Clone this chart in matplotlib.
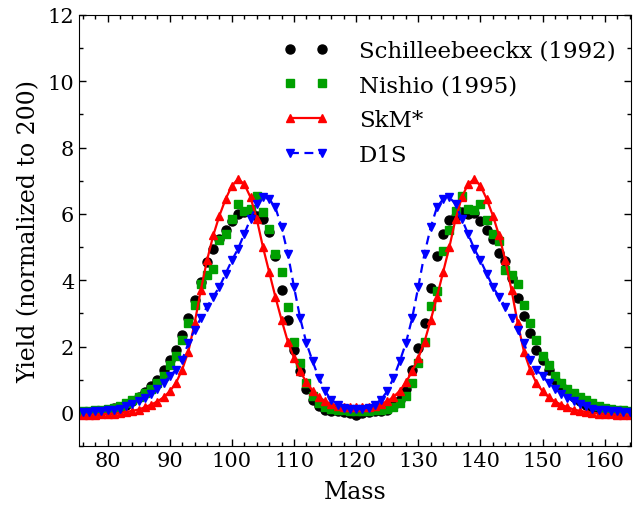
import numpy as np
import matplotlib.pyplot as plt
from matplotlib.ticker import MultipleLocator

plt.rcParams["font.family"] = ["DejaVu Serif"]

mass = np.arange(76, 165)

# Schilleebeeckx (1992)
schill = [0.02, 0.03, 0.05, 0.07, 0.10, 0.14, 0.19, 0.25, 0.36, 0.49,
          0.62, 0.80, 1.00, 1.30, 1.60, 1.90, 2.35, 2.85, 3.40, 3.95,
          4.55, 4.95, 5.25, 5.50, 5.80, 6.00, 6.05, 6.05, 5.95, 5.85,
          5.45, 4.72, 3.72, 2.80, 1.90, 1.25, 0.72, 0.40, 0.20, 0.10,
          0.06, 0.05, 0.02, 0.00, -0.05, 0.00, 0.02, 0.05, 0.06, 0.10,
          0.20, 0.40, 0.72, 1.30, 1.95, 2.71, 3.77, 4.72, 5.40, 5.83,
          5.95, 6.05, 6.00, 6.03, 5.78, 5.53, 5.25, 4.82, 4.57, 4.07,
          3.47, 2.91, 2.40, 1.90, 1.60, 1.30, 1.00, 0.80, 0.62, 0.49,
          0.36, 0.25, 0.19, 0.14, 0.10, 0.07, 0.05, 0.03, 0.02]

# Nishio (1995)
nishio = [0.05, 0.06, 0.08, 0.10, 0.12, 0.16, 0.22, 0.30, 0.38, 0.48,
          0.60, 0.72, 0.90, 1.10, 1.45, 1.70, 2.20, 2.70, 3.25, 3.90,
          4.15, 4.35, 5.20, 5.40, 5.85, 6.30, 6.10, 6.15, 6.55, 6.05,
          5.55, 4.80, 4.25, 3.20, 2.15, 1.50, 0.90, 0.50, 0.30, 0.18,
          0.12, 0.08, 0.08, 0.06, 0.06, 0.06, 0.06, 0.08, 0.08, 0.12,
          0.18, 0.30, 0.50, 0.90, 1.50, 2.15, 3.21, 3.67, 4.87, 5.53,
          6.08, 6.54, 6.15, 6.13, 6.30, 5.83, 5.38, 5.18, 4.32, 4.17,
          3.90, 3.25, 2.70, 2.20, 1.70, 1.45, 1.10, 0.90, 0.72, 0.60,
          0.48, 0.38, 0.30, 0.22, 0.16, 0.12, 0.10, 0.08, 0.06]

# SkM*
skm = [-0.05, -0.05, -0.05, -0.04, -0.03, -0.02, 0.00, 0.03, 0.06, 0.10,
       0.17, 0.25, 0.34, 0.47, 0.65, 0.90, 1.30, 1.85, 2.70, 3.70,
       4.60, 5.35, 5.95, 6.45, 6.85, 7.05, 6.90, 6.50, 5.85, 5.00,
       4.25, 3.50, 2.80, 2.15, 1.65, 1.25, 0.92, 0.66, 0.48, 0.35,
       0.27, 0.22, 0.19, 0.18, 0.18, 0.18, 0.19, 0.22, 0.27, 0.35,
       0.48, 0.66, 0.92, 1.25, 1.65, 2.15, 2.80, 3.50, 4.25, 5.00,
       5.85, 6.50, 6.90, 7.05, 6.85, 6.45, 5.95, 5.35, 4.60, 3.70,
       2.70, 1.85, 1.30, 0.90, 0.65, 0.47, 0.34, 0.25, 0.17, 0.10,
       0.06, 0.03, 0.00, -0.02, -0.03, -0.04, -0.05, -0.05, -0.05]

# D1S
d1s = [0.03, 0.04, 0.05, 0.06, 0.08, 0.10, 0.13, 0.20, 0.27, 0.35,
       0.45, 0.58, 0.72, 0.90, 1.10, 1.30, 1.60, 2.10, 2.50, 2.85,
       3.20, 3.50, 3.80, 4.20, 4.60, 4.95, 5.40, 5.85, 6.30, 6.50,
       6.45, 6.20, 5.60, 4.80, 3.80, 2.85, 2.10, 1.55, 1.05, 0.65,
       0.40, 0.25, 0.16, 0.12, 0.11, 0.12, 0.16, 0.25, 0.40, 0.65,
       1.05, 1.55, 2.10, 2.85, 3.80, 4.80, 5.60, 6.20, 6.45, 6.50,
       6.30, 5.85, 5.40, 4.95, 4.60, 4.20, 3.80, 3.50, 3.20, 2.85,
       2.50, 2.10, 1.60, 1.30, 1.10, 0.90, 0.72, 0.58, 0.45, 0.35,
       0.27, 0.20, 0.13, 0.10, 0.08, 0.06, 0.05, 0.04, 0.03]

fig = plt.figure(figsize=(6.34, 5.06), dpi=100)
ax = fig.add_axes([0.1246, 0.1166, 0.8704, 0.8518])

ax.plot(mass, schill, "o", color="black", markersize=6.5, label="Schilleebeeckx (1992)")
ax.plot(mass, nishio, "s", color="#00a000", markersize=5.5, label="Nishio (1995)")
ax.plot(mass, skm, "-^", color="red", markersize=5.5, linewidth=1.6, label="SkM*")
ax.plot(mass, d1s, "--v", color="blue", markersize=5.5, linewidth=1.6,
        dashes=(4, 2.5), label="D1S")

ax.set_xlim(75.4, 164.2)
ax.set_ylim(-1, 12)
ax.xaxis.set_major_locator(MultipleLocator(10))
ax.xaxis.set_minor_locator(MultipleLocator(2))
ax.yaxis.set_major_locator(MultipleLocator(2))
ax.yaxis.set_minor_locator(MultipleLocator(1))
ax.tick_params(which="both", direction="in", top=True, right=True, labelsize=15)
ax.tick_params(which="major", length=5, width=1)
ax.tick_params(which="minor", length=3, width=1)

ax.set_xlabel("Mass", fontsize=17, labelpad=7)
ax.set_ylabel("Yield (normalized to 200)", fontsize=17, labelpad=5)

ax.legend(loc="upper right", bbox_to_anchor=(1.005, 0.985), frameon=False,
          numpoints=2, fontsize=16.5, handlelength=2.0, handletextpad=1.3,
          labelspacing=0.55, borderaxespad=0.4)

fig.savefig("out.png", dpi=100)
